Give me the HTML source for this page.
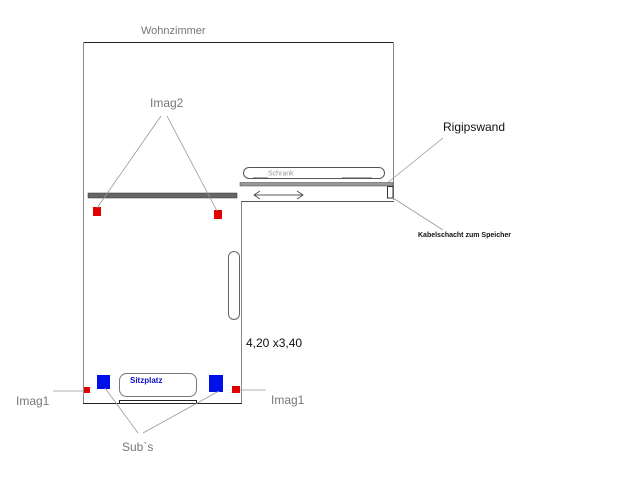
<!DOCTYPE html>
<html><head><meta charset="utf-8"><style>
html,body{margin:0;padding:0;background:#fff;}
svg{display:block;}
text{font-family:"Liberation Sans",sans-serif;}
</style></head><body>
<svg width="640" height="480" viewBox="0 0 640 480" xmlns="http://www.w3.org/2000/svg">
<rect width="640" height="480" fill="#fff"/>
<!-- walls -->
<line x1="83" y1="42.5" x2="394" y2="42.5" stroke="#222" stroke-width="1"/>
<line x1="83.5" y1="42" x2="83.5" y2="404" stroke="#888" stroke-width="1"/>
<line x1="393.5" y1="42" x2="393.5" y2="200" stroke="#888" stroke-width="1"/>
<line x1="241.5" y1="201" x2="241.5" y2="404" stroke="#888" stroke-width="1"/>
<line x1="241" y1="201.5" x2="394" y2="201.5" stroke="#555" stroke-width="1"/>
<line x1="83" y1="403.5" x2="242" y2="403.5" stroke="#222" stroke-width="1"/>
<!-- gray bars -->
<rect x="88" y="193" width="149" height="5" fill="#666" stroke="#333" stroke-width="0.5"/>
<rect x="240" y="182.5" width="153" height="3.5" fill="#999" stroke="#444" stroke-width="0.5"/>
<rect x="387.5" y="186.5" width="5.5" height="11.5" fill="#fff" stroke="#333" stroke-width="1"/>
<!-- Schrank -->
<rect x="243.5" y="167.5" width="141" height="11" rx="5.5" fill="none" stroke="#555" stroke-width="1"/>
<text x="268" y="175.5" font-size="7" fill="#999">Schrank</text>
<line x1="253" y1="178" x2="268" y2="178" stroke="#555"/>
<line x1="342" y1="178" x2="372" y2="178" stroke="#555"/>
<!-- arrow -->
<line x1="254" y1="195" x2="303" y2="195" stroke="#555"/>
<polyline points="260,191 254,195 260,199" fill="none" stroke="#555"/>
<polyline points="297,191 303,195 297,199" fill="none" stroke="#555"/>
<!-- oval -->
<rect x="228.5" y="251.5" width="11" height="68" rx="5.5" fill="none" stroke="#666"/>
<!-- Sitzplatz -->
<rect x="119.5" y="373.5" width="77" height="23" rx="7" fill="none" stroke="#777"/>
<text x="130" y="383" font-size="8" font-weight="bold" fill="#1010c0">Sitzplatz</text>
<rect x="119.5" y="400.5" width="77" height="3" fill="none" stroke="#222"/>
<!-- squares -->
<rect x="93" y="207" width="8" height="9" fill="#e00000"/>
<rect x="214" y="210" width="8" height="9" fill="#e00000"/>
<rect x="84" y="387" width="6" height="6" fill="#e00000"/>
<rect x="232" y="386" width="8" height="7" fill="#e00000"/>
<rect x="97" y="375" width="13" height="14" fill="#0010e8"/>
<rect x="209" y="375" width="14" height="17" fill="#0010e8"/>
<!-- leader lines -->
<g stroke="#999" stroke-width="0.8" fill="none">
<line x1="97" y1="208" x2="161" y2="116"/>
<line x1="217" y1="211" x2="167" y2="116"/>
<line x1="53" y1="391" x2="84" y2="391"/>
<line x1="240" y1="390" x2="266" y2="390"/>
<line x1="105" y1="388" x2="138" y2="433"/>
<line x1="219" y1="391" x2="143" y2="433"/>
<line x1="386" y1="184" x2="443" y2="138"/>
<line x1="393" y1="198" x2="443" y2="230"/>
</g>
<!-- labels -->
<text x="141" y="34" font-size="11" fill="#777">Wohnzimmer</text>
<text x="150" y="107" font-size="12" fill="#777">Imag2</text>
<text x="443" y="131" font-size="12" fill="#111">Rigipswand</text>
<text x="418" y="237" font-size="7" font-weight="bold" fill="#111">Kabelschacht zum Speicher</text>
<text x="246" y="347" font-size="12" fill="#111">4,20 x3,40</text>
<text x="16" y="405" font-size="12" fill="#777">Imag1</text>
<text x="271" y="404" font-size="12" fill="#777">Imag1</text>
<text x="122" y="451" font-size="12" fill="#777">Sub`s</text>
</svg>
</body></html>
